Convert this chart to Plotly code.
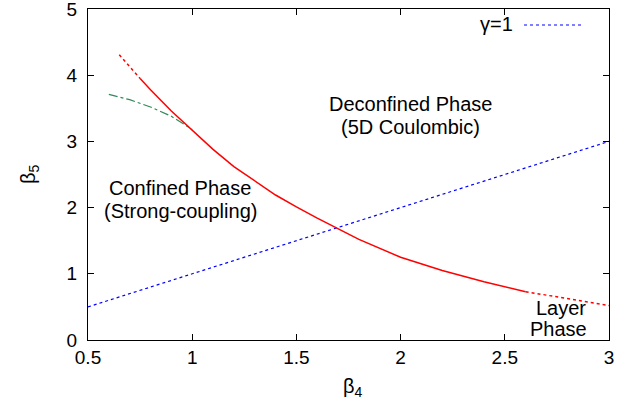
import plotly.graph_objects as go

# data
red_solid_x = [0.75, 0.8, 0.9, 1.0, 1.1, 1.2, 1.3, 1.4, 1.5, 1.6, 1.8, 2.0, 2.2, 2.4, 2.6]
red_solid_y = [3.95, 3.78, 3.46, 3.17, 2.88, 2.62, 2.40, 2.19, 2.01, 1.84, 1.52, 1.25, 1.05, 0.88, 0.73]
red_dot_left_x = [0.65, 0.75]
red_dot_left_y = [4.31, 3.95]
red_dot_right_x = [2.6, 2.8, 3.0]
red_dot_right_y = [0.73, 0.62, 0.52]
green_x = [0.6, 0.7, 0.8, 0.9, 1.0]
green_y = [3.71, 3.63, 3.52, 3.38, 3.18]
gamma_x = [0.5, 3.0]
gamma_y = [0.5, 3.0]
x_ticks = [0.5, 1, 1.5, 2, 2.5, 3]
x_ticklabels = ["0.5", "1", "1.5", "2", "2.5", "3"]
y_ticks = [0, 1, 2, 3, 4, 5]

FONT = "Liberation Sans, Arial, Helvetica, sans-serif"

fig = go.Figure()
fig.add_trace(go.Scatter(x=gamma_x, y=gamma_y, mode="lines",
                         line=dict(color="#0000ff", width=1.2, dash="dot"),
                         showlegend=False))
fig.add_trace(go.Scatter(x=green_x, y=green_y, mode="lines",
                         line=dict(color="#2e8b57", width=1.2, dash="dashdot"),
                         showlegend=False))
fig.add_trace(go.Scatter(x=red_dot_left_x, y=red_dot_left_y, mode="lines",
                         line=dict(color="#ff0000", width=1.5, dash="dot"),
                         showlegend=False))
fig.add_trace(go.Scatter(x=red_dot_right_x, y=red_dot_right_y, mode="lines",
                         line=dict(color="#ff0000", width=1.5, dash="dot"),
                         showlegend=False))
fig.add_trace(go.Scatter(x=red_solid_x, y=red_solid_y, mode="lines",
                         line=dict(color="#ff0000", width=1.5),
                         showlegend=False))

axis_common = dict(showgrid=False, zeroline=False, showline=True, linecolor="black",
                   linewidth=1, mirror="allticks", ticks="inside", ticklen=6,
                   automargin=False, ticklabeloverflow="allow",
                   tickcolor="black", tickfont=dict(family=FONT, size=19, color="black"))

fig.update_xaxes(range=[0.5, 3], tickvals=x_ticks, ticktext=x_ticklabels, **axis_common)
fig.update_yaxes(range=[0, 5], tickvals=y_ticks, ticklabelstandoff=6, **axis_common)

ann_font = dict(family=FONT, size=20, color="black")
anns = [
    dict(x=410, y=104, text="Deconfined Phase"),
    dict(x=410, y=127, text="(5D Coulombic)"),
    dict(x=180, y=188, text="Confined Phase"),
    dict(x=180, y=211, text="(Strong-coupling)"),
    dict(x=561, y=308, text="Layer"),
    dict(x=558, y=329, text="Phase"),
]
W, H = 640, 410
L, R, T, B = 88, 31, 9, 70
pw, ph = W - L - R, H - T - B
annotations = []
for a in anns:
    annotations.append(dict(xref="paper", yref="paper",
                            x=(a["x"] - L) / pw, y=1 - (a["y"] - T) / ph,
                            text=a["text"], showarrow=False, font=ann_font,
                            xanchor="center", yanchor="middle"))
# legend text
annotations.append(dict(xref="paper", yref="paper", x=(515 - L) / pw, y=1 - (24 - T) / ph,
                        text="γ=1", showarrow=False, font=ann_font,
                        xanchor="right", yanchor="middle"))
# axis titles
annotations.append(dict(xref="paper", yref="paper", x=(353 - L) / pw, y=1 - (388 - T) / ph,
                        text="β<sub>4</sub>", showarrow=False,
                        font=dict(family=FONT, size=20, color="black"),
                        xanchor="center", yanchor="middle"))
annotations.append(dict(xref="paper", yref="paper", x=(29 - L) / pw, y=1 - (174 - T) / ph,
                        text="β<sub>5</sub>", showarrow=False, textangle=-90,
                        font=dict(family=FONT, size=20, color="black"),
                        xanchor="center", yanchor="middle"))

shapes = [dict(type="line", xref="paper", yref="paper",
               x0=(524 - L) / pw, x1=(584 - L) / pw,
               y0=1 - (25 - T) / ph, y1=1 - (25 - T) / ph,
               line=dict(color="#0000ff", width=1.2, dash="dot"))]

fig.update_layout(width=W, height=H, margin=dict(l=L, r=R, t=T, b=B),
                  paper_bgcolor="white", plot_bgcolor="white",
                  annotations=annotations, shapes=shapes, showlegend=False)

fig.write_html("out.html", config={"displayModeBar": False},
               post_script="document.body.style.margin='0';document.body.style.padding='0';")
